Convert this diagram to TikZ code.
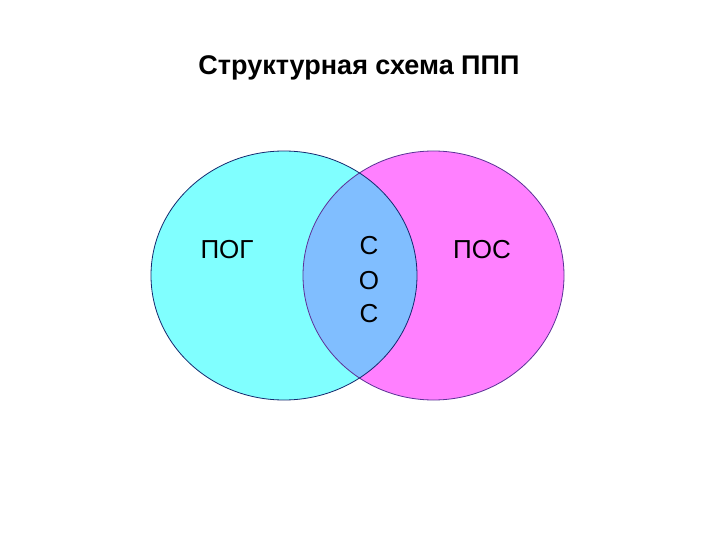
\documentclass[tikz,border=0pt]{standalone}
\usepackage{fontspec}
\setmainfont{Liberation Sans}
\definecolor{cyanfill}{RGB}{128,255,255}
\definecolor{magfill}{RGB}{255,128,255}
\definecolor{midfill}{RGB}{128,190,255}
\definecolor{leftline}{RGB}{20,40,110}
\definecolor{rightline}{RGB}{90,50,150}
\begin{document}
\begin{tikzpicture}[x=1pt,y=-1pt,
  lbl/.style={font=\fontsize{26}{30}\selectfont, inner sep=0pt, anchor=center},
  ttl/.style={font=\fontsize{27}{32}\selectfont\bfseries, inner sep=0pt, anchor=center}]
\useasboundingbox[fill=white] (0,0) rectangle (720,540);
% left and right ellipses
\fill[cyanfill] (284,275.5) ellipse [x radius=133, y radius=124.5];
\fill[magfill] (433.5,275.5) ellipse [x radius=130.5, y radius=124.5];
\begin{scope}
  \clip (284,275.5) ellipse [x radius=133, y radius=124.5];
  \fill[midfill] (433.5,275.5) ellipse [x radius=130.5, y radius=124.5];
\end{scope}
\draw[rightline, line width=0.8pt] (433.5,275.5) ellipse [x radius=130.5, y radius=124.5];
\draw[leftline, line width=0.8pt] (284,275.5) ellipse [x radius=133, y radius=124.5];
% texts
\node[ttl] (title) at (359,68) {Структурная схема ППП};
\node[lbl] (pog) at (227,250) {ПОГ};
\node[lbl] (pos) at (482,250) {ПОС};
\node[lbl] (s1) at (369,246) {С};
\node[lbl] (o) at (369,281) {О};
\node[lbl] (s2) at (369,314) {С};
\end{tikzpicture}
\end{document}
